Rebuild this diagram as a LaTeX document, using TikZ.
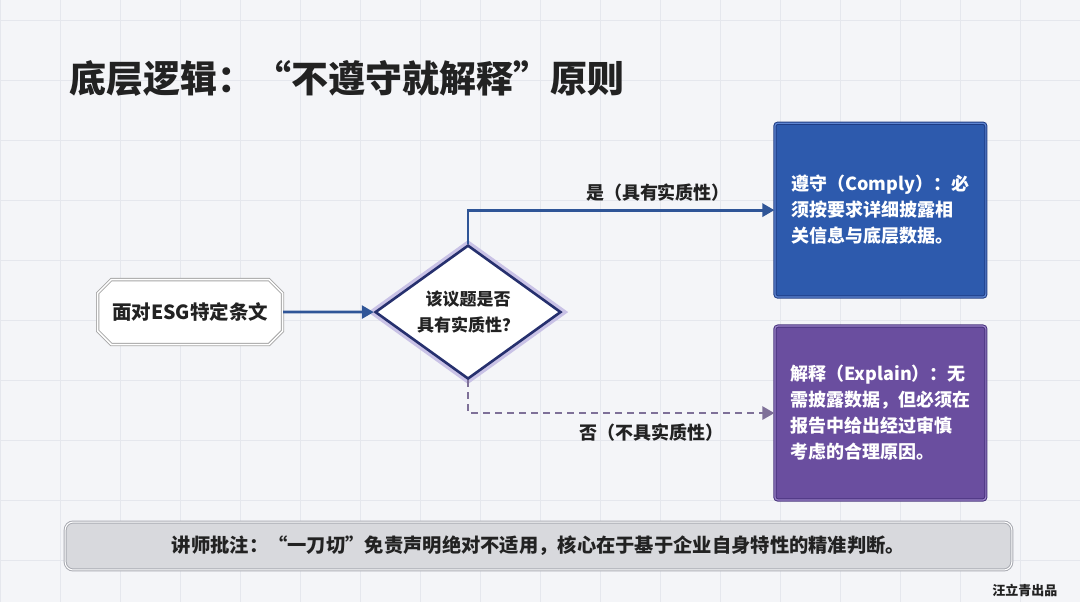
\documentclass[tikz,border=0pt]{standalone}
\usepackage{fontspec}
\setmainfont{Noto Sans CJK SC}
\usetikzlibrary{arrows.meta,positioning,shapes.geometric,shapes.misc}

\definecolor{bgcol}{HTML}{F4F5F8}
\definecolor{gridcol}{HTML}{E5E7ED}
\definecolor{flowblue}{HTML}{2F5597}
\definecolor{nogray}{HTML}{7E7098}
\definecolor{bluefill}{HTML}{2D5AAD}
\definecolor{bluedark}{HTML}{1E3C84}
\definecolor{bluelight}{HTML}{5F86D3}
\definecolor{purpfill}{HTML}{6A4E9F}
\definecolor{purpdark}{HTML}{47327C}
\definecolor{purplight}{HTML}{9A82C8}
\definecolor{navy}{HTML}{26306E}
\definecolor{lav}{HTML}{C9C2E6}
\definecolor{notefill}{HTML}{D8D9DD}
\definecolor{noteline}{HTML}{A9ABB2}
\definecolor{ink}{HTML}{222222}

\begin{document}
\begin{tikzpicture}[
  x=1pt, y=-1pt,
  every node/.style={align=center, text=ink},
  srcbox/.style={chamfered rectangle, chamfered rectangle xsep=10pt,
    minimum width=185pt, minimum height=65pt, fill=white,
    draw=gray!70, double=white, double distance=1.5pt, line width=0.9pt,
    font=\fontsize{19.5}{22}\selectfont\bfseries},
  decision/.style={diamond, aspect=1.39, minimum width=186pt, minimum height=134pt,
    inner sep=0pt, fill=white, draw=navy, line width=2.6pt,
    preaction={draw=lav, line width=9pt},
    font=\fontsize{17}{26}\selectfont\bfseries},
  outbox/.style={rectangle, rounded corners=3pt, minimum width=211pt, minimum height=174pt,
    align=left, line width=1pt, double distance=1.2pt,
    font=\fontsize{18}{26}\selectfont\bfseries},
  lbl/.style={font=\fontsize{18}{20}\selectfont\bfseries},
  flow/.style={draw=flowblue, line width=2.8pt, -{Triangle[length=12pt,width=13pt]}},
  noflow/.style={draw=nogray, line width=2.6pt, dashed, dash pattern=on 7pt off 5pt,
    -{Triangle[length=12pt,width=13pt]}}
]
% background and grid
\fill[bgcol] (0,0) rectangle (1080,602);
\foreach \x in {0,60,...,1080} \draw[gridcol] (\x,0) -- (\x,602);
\foreach \y in {20,80,...,602} \draw[gridcol] (0,\y) -- (1080,\y);
\useasboundingbox (0,0) rectangle (1080,602);

% title
\node[anchor=west, font=\fontsize{37}{40}\selectfont\bfseries] (title) at (66,78)
  {底层逻辑：“不遵守就解释”原则};

% flow nodes
\node[srcbox] (src) at (190,312) {面对ESG特定条文};
\node[decision] (decide) at (468,312) {该议题是否\\具有实质性？};
\node[outbox, fill=bluefill, draw=bluedark, double=bluelight, text=white] (comply) at (880.5,210)
  {遵守（Comply）：必\\须按要求详细披露相\\关信息与底层数据。};
\node[outbox, fill=purpfill, draw=purpdark, double=purplight, text=white] (explain) at (880.5,413)
  {解释（Explain）：无\\需披露数据，但必须在\\报告中给出经过审慎\\考虑的合理原因。};

% connectors
\draw[flow] (src) -- (decide);
\draw[flow] (decide.north) |- node[lbl, pos=0.81, above=4pt] (yeslbl) {是（具有实质性）} (comply.west);
\draw[noflow] (decide.south) |- node[lbl, pos=0.8, below=6pt] (nolbl) {否（不具实质性）} (explain.west);

% note bar
\node[rectangle, rounded corners=8pt, minimum width=947pt, minimum height=48pt,
  fill=notefill, draw=noteline, double=white, double distance=1pt, line width=1pt,
  font=\fontsize{19.3}{22}\selectfont\bfseries] (note) at (538.5,546)
  {讲师批注：“一刀切”免责声明绝对不适用，核心在于基于企业自身特性的精准判断。};

\node[font=\fontsize{13}{15}\selectfont\bfseries] (credit) at (1025,590) {汪立青出品};
\end{tikzpicture}
\end{document}
